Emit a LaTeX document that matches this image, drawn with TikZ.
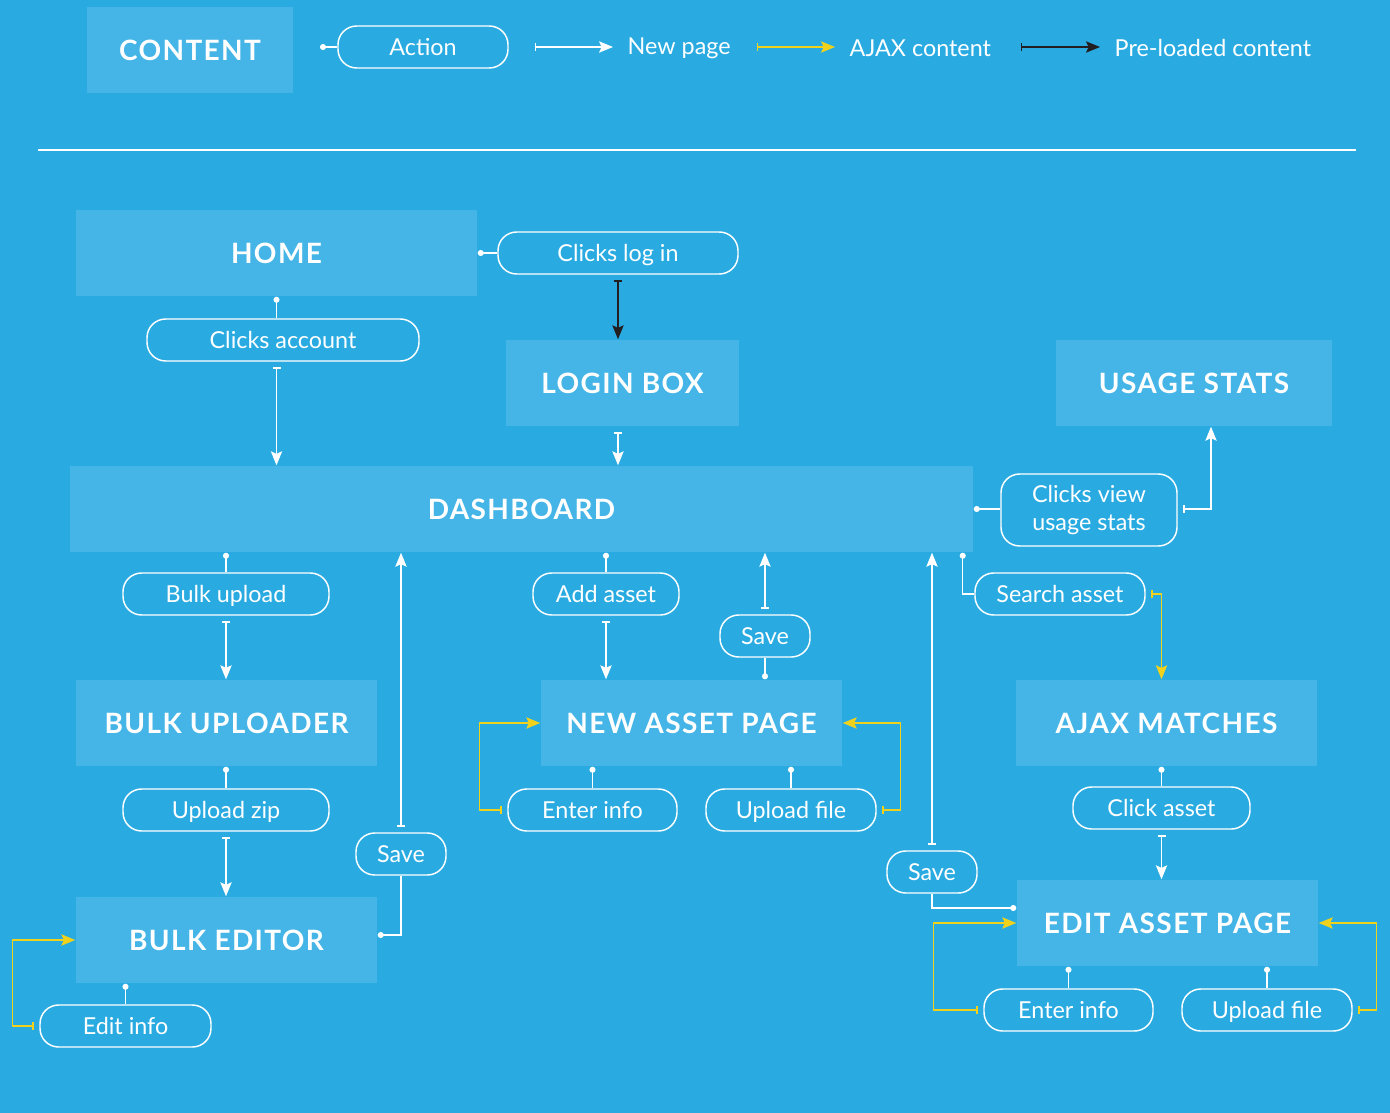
\documentclass[tikz,border=0pt]{standalone}
\usepackage{fontspec}
\setmainfont{Lato}
\newfontfamily\pagefont[LetterSpace=5]{Lato}
\usetikzlibrary{arrows.meta}

\definecolor{bgblue}{RGB}{41,171,226}
\definecolor{boxblue}{RGB}{69,181,231}
\definecolor{ajaxyellow}{RGB}{240,210,28}
\definecolor{preblack}{RGB}{35,31,32}

\tikzset{every picture/.style={line width=1.1pt}}
\tikzset{
  pagebox/.style={fill=boxblue, text=white, inner sep=0pt, minimum height=64.5pt,
    font=\pagefont\bfseries\fontsize{21}{25}\selectfont},
  action/.style={draw=white, rounded corners=14pt, text=white, inner sep=0pt,
    minimum height=31.5pt, align=center, text height=14pt, text depth=1.5pt,
    font=\fontsize{17.5}{21}\selectfont},
  legendtxt/.style={text=white, inner sep=0pt, anchor=west, font=\fontsize{17.5}{21}\selectfont},
  attach/.style={draw=white, {Circle[length=4.5pt]}-},
  newpage/.style={draw=white, {Bar[width=6pt]}-{Stealth[length=10.5pt,width=8.5pt,inset=2pt]}, shorten <=4pt},
  ajax/.style={draw=ajaxyellow, {Bar[width=6pt]}-{Stealth[length=10.5pt,width=8.5pt,inset=2pt]}, shorten <=4pt},
  preload/.style={draw=preblack, {Bar[width=6pt]}-{Stealth[length=10.5pt,width=8.5pt,inset=2pt]}, shorten <=4pt},
}

\begin{document}
\begin{tikzpicture}[x=0.75pt,y=0.75pt,yscale=-1,xscale=1]
\fill[bgblue] (0,0) rectangle (1390,1113);

% Legend
\node[pagebox, minimum width=154.5pt] (content) at (190,50) {CONTENT};
\node[action, minimum width=127.5pt] (action) at (423,47) {Action};
\coordinate (legdot) at (320,47);
\draw[attach] (legdot) -- (action);
\coordinate (np1) at (535,47);  \coordinate (np2) at (613,47);
\coordinate (aj1) at (757,47);  \coordinate (aj2) at (835,47);
\coordinate (pl1) at (1021,47); \coordinate (pl2) at (1100,47);
\draw[newpage, shorten <=0pt] (np1) -- (np2);
\draw[ajax, shorten <=0pt] (aj1) -- (aj2);
\draw[preload, shorten <=0pt] (pl1) -- (pl2);
\node[legendtxt] (newpagetxt) at (627,48) {New page};
\node[legendtxt] (ajaxtxt) at (849,48) {AJAX content};
\node[legendtxt] (preloadtxt) at (1114,48) {Pre-loaded content};

\draw[white, line width=1.5pt] (38,150) -- (1356,150);

% Page boxes
\node[pagebox, minimum width=300.75pt] (home) at (276.5,253) {HOME};
\node[pagebox, minimum width=174.75pt] (loginbox) at (622.5,383) {LOGIN BOX};
\node[pagebox, minimum width=207pt] (usage) at (1194,383) {USAGE STATS};
\node[pagebox, minimum width=677.25pt] (dashboard) at (521.5,509) {DASHBOARD};
\node[pagebox, minimum width=225.75pt] (bulkuploader) at (226.5,723) {BULK UPLOADER};
\node[pagebox, minimum width=225.75pt] (newasset) at (691.5,723) {NEW ASSET PAGE};
\node[pagebox, minimum width=225.75pt] (ajaxmatch) at (1166.5,723) {AJAX MATCHES};
\node[pagebox, minimum width=225.75pt] (bulkeditor) at (226.5,940) {BULK EDITOR};
\node[pagebox, minimum width=225.75pt] (editasset) at (1167.5,923) {EDIT ASSET PAGE};

% Actions
\node[action, minimum width=180pt] (clickslogin) at (618,253) {Clicks log in};
\node[action, minimum width=204pt] (clicksaccount) at (283,340) {Clicks account};
\node[action, minimum width=132pt, minimum height=54pt, text height=, text depth=] (clicksview) at (1089,510) {Clicks view\\usage stats};
\node[action, minimum width=127.5pt] (searchasset) at (1060,594) {Search asset};
\node[action, minimum width=132.75pt] (clickasset) at (1161.5,808) {Click asset};
\node[action, minimum width=67.5pt] (saveedit) at (932,872) {Save};
\node[action, minimum width=126.75pt] (enteredit) at (1068.5,1010) {Enter info};
\node[action, minimum width=127.5pt] (uploadedit) at (1267,1010) {Upload file};
\node[action, minimum width=154.5pt] (bulkupload) at (226,594) {Bulk upload};
\node[action, minimum width=154.5pt] (uploadzip) at (226,810) {Upload zip};
\node[action, minimum width=67.5pt] (savebulk) at (401,854) {Save};
\node[action, minimum width=128.25pt] (editinfo) at (125.5,1026) {Edit info};
\node[action, minimum width=109.5pt] (addasset) at (606,594) {Add asset};
\node[action, minimum width=67.5pt] (savenew) at (765,636) {Save};
\node[action, minimum width=126.75pt] (enternew) at (592.5,810) {Enter info};
\node[action, minimum width=127.5pt] (uploadnew) at (791,810) {Upload file};

% Home and login
\draw[attach] (home.east) -- (clickslogin);
\draw[preload] (clickslogin.south) -- (clickslogin.south |- loginbox.north);
\draw[attach] (home.south) -- (home.south |- clicksaccount.north);
\draw[newpage] (home.south |- clicksaccount.south) -- (home.south |- dashboard.north);
\draw[newpage] (clickslogin.south |- loginbox.south) -- (clickslogin.south |- dashboard.north);

% Usage stats and search
\draw[attach] (dashboard.east) -- (dashboard.east -| clicksview.west);
\draw[newpage] (clicksview.east |- dashboard.east) -| ([xshift=12.75pt]usage.south);
\draw[attach] ([xshift=-8.25pt]dashboard.south east) |- (searchasset);
\draw[ajax] (searchasset.east) -| (clickasset.north |- ajaxmatch.north);
\draw[attach] (clickasset.north |- ajaxmatch.south) -- (clickasset);
\draw[newpage] (clickasset.south) -- (clickasset.south |- editasset.north);
\draw[attach] ([yshift=-11.25pt]editasset.west) -| (saveedit);
\draw[newpage] (saveedit.north) -- (saveedit.north |- dashboard.south);
\draw[attach] (editasset.south -| enteredit) -- (enteredit);
\draw[ajax] (enteredit.west) -- ++(-50,0) |- (editasset.west);
\draw[attach] (editasset.south -| uploadedit) -- (uploadedit);
\draw[ajax] (uploadedit.east) -- ++(24,0) |- (editasset.east);

% Bulk upload
\draw[attach] (dashboard.south -| bulkupload) -- (bulkupload);
\draw[newpage] (bulkupload.south) -- (bulkupload.south |- bulkuploader.north);
\draw[attach] (bulkuploader.south -| uploadzip) -- (uploadzip);
\draw[newpage] (uploadzip.south) -- (uploadzip.south |- bulkeditor.north);
\draw[attach] ([yshift=-3.75pt]bulkeditor.east) -| (savebulk);
\draw[newpage] (savebulk.north) -- (savebulk.north |- dashboard.south);
\draw[attach] (bulkeditor.south -| editinfo) -- (editinfo);
\draw[ajax] (editinfo.west) -- ++(-27,0) |- (bulkeditor.west);

% New asset
\draw[attach] (dashboard.south -| addasset) -- (addasset);
\draw[newpage] (addasset.south) -- (addasset.south |- newasset.north);
\draw[attach] (newasset.north -| savenew) -- (savenew);
\draw[newpage] (savenew.north) -- (savenew.north |- dashboard.south);
\draw[attach] (newasset.south -| enternew) -- (enternew);
\draw[ajax] (enternew.west) -- ++(-28,0) |- (newasset.west);
\draw[attach] (newasset.south -| uploadnew) -- (uploadnew);
\draw[ajax] (uploadnew.east) -- ++(24,0) |- (newasset.east);

\end{tikzpicture}
\end{document}
